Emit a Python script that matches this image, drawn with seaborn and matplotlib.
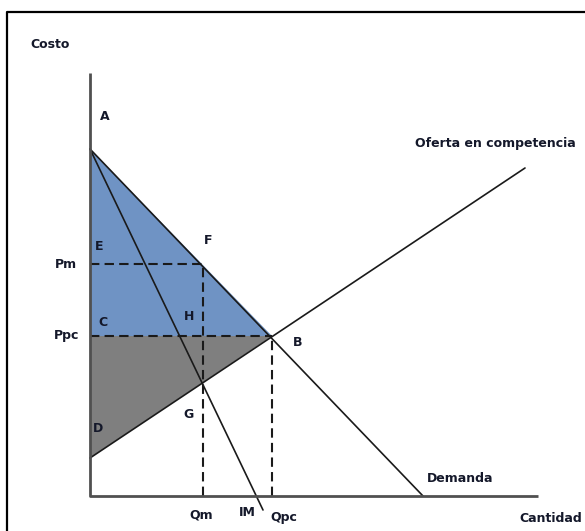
import pandas as pd
import matplotlib.pyplot as plt
from matplotlib.patches import Polygon
import seaborn as sns

# Values (pixel-like units, origin at the axes corner)
p_max = 347          # A: demand / MR intercept on the price axis
p_m = 232            # Pm
p_pc = 160           # Ppc
q_m = 113            # Qm
q_pc = 182           # Qpc
supply_start = 38    # D

demand_q = [0, 333]
demand_p = [p_max, 0]
mr_q = [0, 173]
mr_p = [p_max, -14]
supply_q = [0, 435]
supply_p = [supply_start, 328]

x_axis_end = 448
y_axis_end = 423

BLUE = '#6f93c4'
GRAY = '#7f7f7f'
TXT = '#14182a'


def main():
    sns.set_theme(style="white")
    plt.rcParams['font.family'] = ['Liberation Sans Narrow', 'DejaVu Sans']

    fig = plt.figure(figsize=(5.85, 5.31), dpi=100)
    ax = fig.add_axes([0, 0, 1, 1])
    ax.set_xlim(-90, 495)
    ax.set_ylim(-35, 496)
    ax.axis('off')

    # outer frame (only left and top edges are inside the picture)
    ax.plot([-83, -83, 500], [-40, 484, 484], color='black', lw=1.6, clip_on=False)

    # shaded areas
    ax.add_patch(Polygon([(0, p_max), (q_pc, p_pc), (0, p_pc)], closed=True,
                         facecolor=BLUE, edgecolor='none', zorder=1))
    ax.add_patch(Polygon([(0, p_pc), (q_pc, p_pc), (0, supply_start)], closed=True,
                         facecolor=GRAY, edgecolor='none', zorder=1))

    # curves
    curves = pd.concat([
        pd.DataFrame({'Q': demand_q, 'P': demand_p, 'curva': 'Demanda'}),
        pd.DataFrame({'Q': mr_q, 'P': mr_p, 'curva': 'IM'}),
        pd.DataFrame({'Q': supply_q, 'P': supply_p, 'curva': 'Oferta'}),
    ])
    sns.lineplot(data=curves, x='Q', y='P', units='curva', estimator=None,
                 color='#1a1a1a', lw=1.2, sort=False, ax=ax, zorder=3)

    # dashed guides
    dash = dict(color='#1a1a1a', lw=1.5, linestyle=(0, (4.5, 2.5)), zorder=2)
    ax.plot([0, q_m], [p_m, p_m], **dash)
    ax.plot([0, q_pc], [p_pc, p_pc], **dash)
    ax.plot([q_m, q_m], [0, p_m], **dash)
    ax.plot([q_pc, q_pc], [0, p_pc], **dash)

    # axes
    ax.plot([0, 0, x_axis_end], [y_axis_end, 0, 0], color='#505050', lw=2.0,
            zorder=4, solid_capstyle='butt')

    # labels
    t = dict(color=TXT, fontsize=9, fontweight='bold', ha='center', va='center')
    ax.text(-40, 451, 'Costo', **t)
    ax.text(15, 380, 'A', **t)
    ax.text(9, 250, 'E', **t)
    ax.text(118, 255, 'F', **t)
    ax.text(-24, p_m, 'Pm', **t)
    ax.text(13, 173, 'C', **t)
    ax.text(99, 179, 'H', **t)
    ax.text(-23, p_pc, 'Ppc', **t)
    ax.text(208, 154, 'B', **t)
    ax.text(98, 82, 'G', **t)
    ax.text(8, 67, 'D', **t)
    ax.text(111, -19, 'Qm', **t)
    ax.text(157, -17, 'IM', **t)
    ax.text(194, -21, 'Qpc', **t)
    ax.text(370, 17, 'Demanda', **t)
    ax.text(429, -22, 'Cantidad', color=TXT, fontsize=9, fontweight='bold',
            ha='left', va='center')
    ax.text(325, 353, 'Oferta en competencia', color=TXT, fontsize=9,
            fontweight='bold', ha='left', va='center')

    fig.savefig('out.png', dpi=100)


if __name__ == "__main__":
    main()
